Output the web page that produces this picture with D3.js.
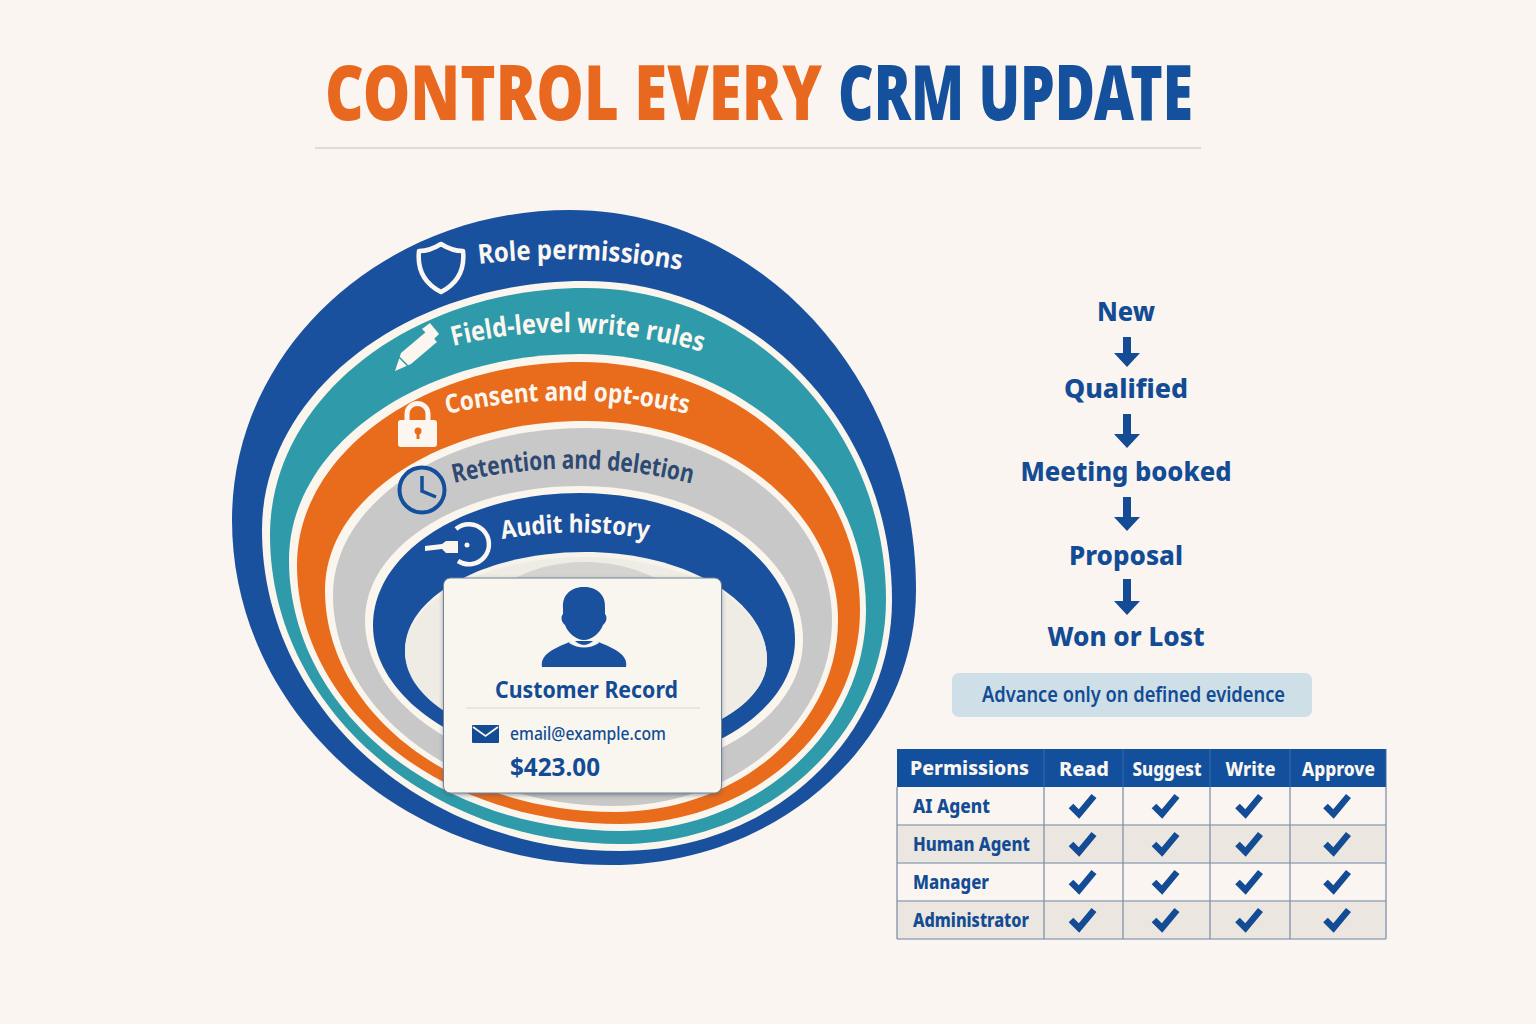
<!DOCTYPE html>
<html>
<head>
<meta charset="utf-8">
<script src="https://cdn.jsdelivr.net/npm/d3@7"></script>
<style>
  html, body { margin: 0; background: #faf5f0; }
  svg { display: block; }
  text { font-family: "Noto Sans", sans-serif; }
</style>
</head>
<body>
<svg id="chart" width="1536" height="1024"></svg>
<script>
// chart content
const titleParts = ['CONTROL EVERY', 'CRM UPDATE'];
const layers = ['Role permissions', 'Field-level write rules', 'Consent and opt-outs', 'Retention and deletion', 'Audit history'];
const stages = ['New', 'Qualified', 'Meeting booked', 'Proposal', 'Won or Lost'];
const evidenceNote = 'Advance only on defined evidence';
const cardTitle = 'Customer Record';
const cardEmail = 'email@example.com';
const cardAmount = '$423.00';
const permissionHead = 'Permissions';
const actions = ['Read', 'Suggest', 'Write', 'Approve'];
const roles = ['AI Agent', 'Human Agent', 'Manager', 'Administrator'];
const granted = [
    [true, true, true, true],
    [true, true, true, true],
    [true, true, true, true],
    [true, true, true, true]
];

const BLUE = '#1a519f', NAVY = '#134c94', TEAL = '#2f9aa9', ORANGE = '#e96c1d', GREY = '#c9c8c8', CREAM = '#faf6ee';
const svg = d3.select('#chart');

svg.append('rect').attr('width', 1536).attr('height', 1024).attr('fill', '#faf5f0');

// text squeezed/stretched to the width it has in the picture
function fitText(parent, str, x, y, w, size, fill, weight, anchor) {
    return parent.append('text')
        .attr('x', x).attr('y', y)
        .attr('font-size', size)
        .attr('font-weight', weight)
        .attr('fill', fill)
        .attr('text-anchor', anchor || 'start')
        .attr('textLength', w)
        .attr('lengthAdjust', 'spacingAndGlyphs')
        .text(str);
}

// title is scaled as a whole so its box stays the real width
function titleText(str, x, y, w, fill) {
    const t = svg.append('text')
        .attr('font-size', 76).attr('font-weight', 900).attr('fill', fill)
        .text(str);
    const sx = w / t.node().getComputedTextLength();
    t.attr('transform', 'translate(' + x + ' ' + y + ') scale(' + sx + ' 1)');
}
titleText(titleParts[0], 325, 120, 497, '#e8681f');
titleText(titleParts[1], 838, 120, 355, '#14509b');
svg.append('line').attr('x1', 315).attr('x2', 1201).attr('y1', 148).attr('y2', 148)
    .attr('stroke', '#d6d3cd').attr('stroke-width', 1.5);

// rings are egg shapes: four beziers through the top, right, bottom and left extremes
function ring(g, tx, ty, rx, ry, bx, by, lx, ly, fill) {
    const k = 0.5523;
    const d = 'M' + tx + ' ' + ty +
        ' C' + (tx + k * (rx - tx)) + ' ' + ty + ' ' + rx + ' ' + (ry - k * (ry - ty)) + ' ' + rx + ' ' + ry +
        ' C' + rx + ' ' + (ry + k * (by - ry)) + ' ' + (bx + k * (rx - bx)) + ' ' + by + ' ' + bx + ' ' + by +
        ' C' + (bx - k * (bx - lx)) + ' ' + by + ' ' + lx + ' ' + (ly + k * (by - ly)) + ' ' + lx + ' ' + ly +
        ' C' + lx + ' ' + (ly - k * (ly - ty)) + ' ' + (tx - k * (tx - lx)) + ' ' + ty + ' ' + tx + ' ' + ty + 'Z';
    g.append('path').attr('d', d).attr('fill', fill);
}

const rings = svg.append('g');
ring(rings, 570, 210, 916, 590, 610, 865, 232, 520, BLUE);
ring(rings, 585, 281, 892, 600, 620, 851, 262, 530, CREAM);
ring(rings, 585, 288, 886, 600, 620, 844, 270, 535, TEAL);
ring(rings, 580, 354, 866, 610, 620, 831, 289, 560, CREAM);
ring(rings, 580, 362, 860, 610, 620, 824, 297, 565, ORANGE);
ring(rings, 585, 421, 838, 620, 615, 812, 325, 590, CREAM);
ring(rings, 585, 428, 832, 620, 615, 806, 333, 595, GREY);
ring(rings, 580, 486, 803, 640, 600, 775, 365, 620, CREAM);
ring(rings, 580, 493, 795, 640, 600, 766, 373, 625, BLUE);
ring(rings, 585, 552, 767, 660, 590, 748, 405, 650, '#f7f3ea');
ring(rings, 585, 557, 767, 660, 590, 748, 405, 652, '#efece6');
ring(rings, 585, 562, 700, 640, 590, 700, 470, 640, '#d6d4d0');

// curved ring labels
const labelCurves = [
    'M479 264 Q575 252 681 270',
    'M453 346 Q575 316 703 352',
    'M447 414 Q565 387 689 414',
    'M454 483 Q575 454 693 484',
    'M502 539 Q575 526 649 539'
];
const labelWidths = [203, 252, 243, 240, 147];
const labelSizes = [27, 27, 26, 26, 25];
const labelFills = ['#fbf7f0', '#fbf7f0', '#fbf7f0', '#2f4a72', '#fbf7f0'];
const defs = svg.append('defs');
layers.forEach((name, i) => {
    defs.append('path').attr('id', 'curve' + i).attr('d', labelCurves[i]);
    svg.append('text')
        .attr('font-size', labelSizes[i]).attr('font-weight', 700).attr('fill', labelFills[i])
        .append('textPath')
        .attr('href', '#curve' + i)
        .attr('textLength', labelWidths[i])
        .attr('lengthAdjust', 'spacingAndGlyphs')
        .text(name);
});

// ring icons
svg.append('path')
    .attr('d', 'M441 244 Q452 251 463 251 Q466 279 441 292 Q416 279 419 251 Q430 251 441 244Z')
    .attr('fill', 'none').attr('stroke', '#fbf7f0').attr('stroke-width', 4.5).attr('stroke-linejoin', 'round');
svg.append('path')
    .attr('d', 'M395 371 L401 353 L427 331 L437 342 L411 364Z')
    .attr('fill', '#fbf7f0');
svg.append('path').attr('d', 'M422 329 L430 323 L439 334 L433 340Z').attr('fill', '#fbf7f0');
svg.append('line').attr('x1', 399).attr('y1', 357).attr('x2', 408).attr('y2', 366)
    .attr('stroke', TEAL).attr('stroke-width', 1.5);
svg.append('path')
    .attr('d', 'M407 424 V414 A10.5 10.5 0 0 1 428 414 V424')
    .attr('fill', 'none').attr('stroke', '#fbf7f0').attr('stroke-width', 5);
svg.append('rect').attr('x', 398).attr('y', 420).attr('width', 39).attr('height', 27).attr('rx', 3).attr('fill', '#fbf7f0');
svg.append('circle').attr('cx', 418).attr('cy', 431).attr('r', 3.5).attr('fill', ORANGE);
svg.append('rect').attr('x', 416.5).attr('y', 432).attr('width', 3).attr('height', 7).attr('fill', ORANGE);
svg.append('circle').attr('cx', 422).attr('cy', 490).attr('r', 22.5)
    .attr('fill', GREY).attr('stroke', '#134f9d').attr('stroke-width', 4);
svg.append('path').attr('d', 'M422 476 V491 L436 497')
    .attr('fill', 'none').attr('stroke', '#134f9d').attr('stroke-width', 3.5);
svg.append('path')
    .attr('d', 'M456 529 A20 20 0 1 1 458 561')
    .attr('fill', 'none').attr('stroke', '#fbf7f0').attr('stroke-width', 4.5);
svg.append('path')
    .attr('d', 'M425 546 L442 544 L446 541 L458 541 L458 553 L446 553 L442 549 L425 551Z')
    .attr('fill', '#fbf7f0');
svg.append('circle').attr('cx', 467).attr('cy', 545).attr('r', 2.5).attr('fill', '#fbf7f0');

// customer card
const shadow = defs.append('filter').attr('id', 'cardShadow')
    .attr('x', '-5%').attr('y', '-5%').attr('width', '110%').attr('height', '110%');
shadow.append('feDropShadow').attr('dx', 0).attr('dy', 2).attr('stdDeviation', 2)
    .attr('flood-color', '#3a4a5c').attr('flood-opacity', 0.45);
svg.append('rect').attr('x', 443.5).attr('y', 578).attr('width', 278).attr('height', 215).attr('rx', 7)
    .attr('fill', '#f9f6f0').attr('stroke', '#6f8296').attr('stroke-width', 1)
    .attr('filter', 'url(#cardShadow)');
svg.append('path')
    .attr('d', 'M542 667 C540 655 552 649 572 641 L596 641 C616 649 628 655 626 667Z')
    .attr('fill', BLUE);
svg.append('path')
    .attr('d', 'M572 638 Q584 652 596 638 L599 643 Q584 652 569 643Z')
    .attr('fill', '#f9f6f0');
svg.append('path')
    .attr('d', 'M563 608 C562 594 572 587 584 587 C596 587 606 594 605 608 L605 614 C608 617 606 623 603 625 C600 633 592 640 584 640 C576 640 568 633 565 625 C562 623 560 617 563 614Z')
    .attr('fill', BLUE);
fitText(svg, cardTitle, 495, 698, 183, 24, NAVY, 700);
svg.append('line').attr('x1', 466).attr('x2', 700).attr('y1', 708).attr('y2', 708)
    .attr('stroke', '#d8d6d1').attr('stroke-width', 1);
svg.append('rect').attr('x', 472).attr('y', 725).attr('width', 27).attr('height', 18).attr('rx', 1).attr('fill', NAVY);
svg.append('path').attr('d', 'M473 727 L485.5 736 L498 727')
    .attr('fill', 'none').attr('stroke', '#f9f6f0').attr('stroke-width', 1.8);
fitText(svg, cardEmail, 510, 740, 156, 18, NAVY, 500);
fitText(svg, cardAmount, 510, 776, 90, 25, NAVY, 700);

// stage flow
const stageY = d3.scaleOrdinal().domain(stages).range([321, 398, 481, 565, 646]);
const stageWidths = [58, 124, 211, 114, 157];
const flow = svg.append('g');
stages.forEach((s, i) => {
    fitText(flow, s, 1126, stageY(s), stageWidths[i], 27, NAVY, 800, 'middle');
});
stages.slice(0, -1).forEach((s, i) => {
    const top = stageY(s) + (i === 3 ? 14 : 16);
    const tip = stageY(s) + (i === 0 ? 46 : 50);
    flow.append('path')
        .attr('d', 'M1123 ' + top + ' H1131 V' + (tip - 14) + ' H1140 L1127 ' + tip + ' L1114 ' + (tip - 14) + ' H1123Z')
        .attr('fill', NAVY);
});

// note pill
svg.append('rect').attr('x', 952).attr('y', 673).attr('width', 360).attr('height', 44).attr('rx', 7).attr('fill', '#cfdfe8');
fitText(svg, evidenceNote, 982, 702, 303, 22, NAVY, 600);

// permissions table
const colLeft = d3.scaleOrdinal().domain([permissionHead].concat(actions)).range([897, 1044, 1123, 1210, 1290]);
const colRight = d3.scaleOrdinal().domain([permissionHead].concat(actions)).range([1044, 1123, 1210, 1290, 1386]);
const rowY = d3.scaleBand().domain(roles).range([787, 939]);
const colMid = a => (colLeft(a) + colRight(a)) / 2;
const headWidths = [119, 50, 69, 50, 73];

const table = svg.append('g');
table.selectAll('.row').data(roles).enter().append('rect')
    .attr('x', 897).attr('width', 489)
    .attr('y', d => rowY(d)).attr('height', rowY.bandwidth())
    .attr('fill', (d, i) => i % 2 ? '#ebe7e0' : '#faf5f0');
table.append('rect').attr('x', 897).attr('y', 749).attr('width', 489).attr('height', 38).attr('fill', '#124f9c');

table.selectAll('.rule').data(roles).enter().append('line')
    .attr('x1', 897).attr('x2', 1386)
    .attr('y1', d => rowY(d) + rowY.bandwidth()).attr('y2', d => rowY(d) + rowY.bandwidth())
    .attr('stroke', '#9aa8b8').attr('stroke-width', 1.3);
[permissionHead].concat(actions).forEach(a => {
    table.append('line').attr('x1', colRight(a)).attr('x2', colRight(a)).attr('y1', 787).attr('y2', 939)
        .attr('stroke', '#7f92a8').attr('stroke-width', 1.3);
    table.append('line').attr('x1', colRight(a)).attr('x2', colRight(a)).attr('y1', 749).attr('y2', 787)
        .attr('stroke', '#3a6aab').attr('stroke-width', 1);
});
table.append('line').attr('x1', 897).attr('x2', 897).attr('y1', 787).attr('y2', 939)
    .attr('stroke', '#7f92a8').attr('stroke-width', 1.3);

fitText(table, permissionHead, 910, 775, headWidths[0], 20, '#fbf7f0', 800);
actions.forEach((a, i) => {
    fitText(table, a, colMid(a) + 0.5, 776, headWidths[i + 1], 20, '#fbf7f0', 800, 'middle');
});
const roleWidths = [77, 117, 76, 116];
roles.forEach((r, i) => {
    fitText(table, r, 913, rowY(r) + 26, roleWidths[i], 19, NAVY, 800);
    actions.forEach((a, j) => {
        if (!granted[i][j]) return;
        const cx = colMid(a) - 1.5, cy = rowY(r) + 18;
        table.append('path')
            .attr('d', 'M' + (cx - 11) + ' ' + (cy + 1) + ' L' + (cx - 3) + ' ' + (cy + 9) + ' L' + (cx + 12) + ' ' + (cy - 9))
            .attr('fill', 'none').attr('stroke', NAVY).attr('stroke-width', 6.5);
    });
});
</script>
</body>
</html>
